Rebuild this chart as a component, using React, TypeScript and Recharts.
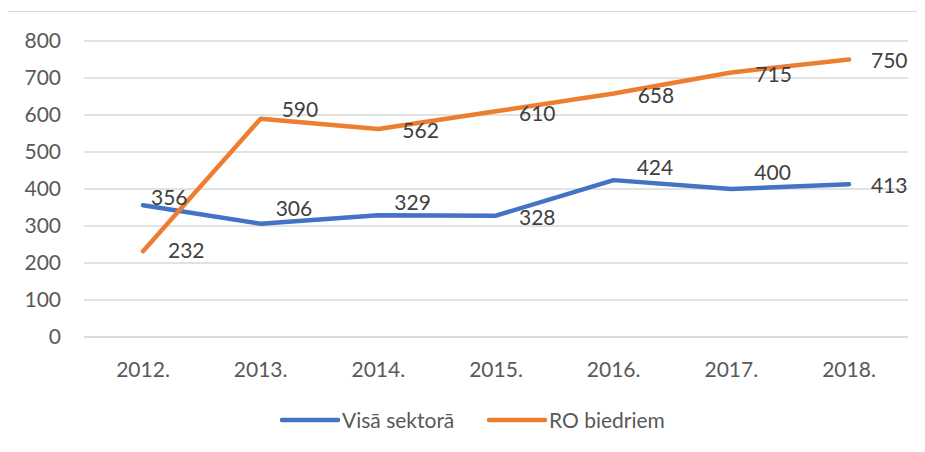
import React from 'react'
import { CartesianGrid, LabelList, Line, LineChart, XAxis, YAxis } from 'recharts'

const years = ['2012.', '2013.', '2014.', '2015.', '2016.', '2017.', '2018.']
const visaSektora = [356, 306, 329, 328, 424, 400, 413]
const roBiedriem = [232, 590, 562, 610, 658, 715, 750]
const yTicks = [0, 100, 200, 300, 400, 500, 600, 700, 800]

const seriesNames = { visa: 'Visā sektorā', ro: 'RO biedriem' }
const colors = { visa: '#4472C4', ro: '#ED7D31' }

// where each data label sits relative to its point: [dx to text start, dy to baseline]
const visaLabelOffsets = [[8, 0], [15, -8], [16, -5], [23, 9], [23, -5], [23, -9], [22, 9]]
const roLabelOffsets = [[25, 7], [21, -2], [24, 9], [23, 10], [24, 9], [24, 10], [22, 8]]

const data = years.map((year, i) => ({ year, visa: visaSektora[i], ro: roBiedriem[i] }))

const font = 'Lato, "Open Sans", sans-serif'
const tickStyle = { fontFamily: font, fontSize: 21, fill: '#595959' }

const makeLabel = (offsets: number[][]) => (props: any) => {
    const { x, y, index, value } = props
    const [dx, dy] = offsets[index] || [20, 8]
    return (
        <text x={Number(x) + dx} y={Number(y) + dy} fill="#404040" fontFamily={font} fontSize={21} textAnchor="start">
            {value}
        </text>
    )
}

const LegendItem = ({ color, label, left }: { color: string; label: string; left: number }) => (
    <div style={{ position: 'absolute', left, top: 0, display: 'flex', alignItems: 'center', whiteSpace: 'nowrap' }}>
        <svg width={62} height={10}>
            <line x1={2} y1={5} x2={58} y2={5} stroke={color} strokeWidth={4.5} strokeLinecap="round" />
        </svg>
        <span style={{ fontFamily: font, fontSize: 21, color: '#595959' }}>{label}</span>
    </div>
)

export default function App() {
    return (
        <div style={{ position: 'relative', margin: -8, width: 925, height: 452, overflow: 'hidden', background: '#fff' }}>
            <div
                style={{
                    position: 'absolute',
                    left: 7,
                    top: 11,
                    width: 940,
                    height: 470,
                    borderLeft: '1px solid #d9d9d9',
                    borderTop: '1px solid #d9d9d9',
                }}
            />
            <div style={{ position: 'absolute', left: 0, top: 0 }}>
                <LineChart width={925} height={452} data={data} margin={{ top: 41, right: 17, left: 24, bottom: 75 }}>
                    <CartesianGrid vertical={false} stroke="#d9d9d9" strokeWidth={1.5} />
                    <XAxis
                        dataKey="year"
                        padding={{ left: 59, right: 59 }}
                        axisLine={{ stroke: '#d9d9d9', strokeWidth: 1.5 }}
                        tickLine={false}
                        tickSize={6}
                        tickMargin={19}
                        height={40}
                        tick={tickStyle}
                        interval={0}
                    />
                    <YAxis
                        domain={[0, 800]}
                        ticks={yTicks}
                        axisLine={false}
                        tickLine={false}
                        tickSize={6}
                        tickMargin={17}
                        width={60}
                        tick={tickStyle}
                    />
                    <Line
                        dataKey="visa"
                        name={seriesNames.visa}
                        stroke={colors.visa}
                        strokeWidth={4.5}
                        strokeLinecap="round"
                        strokeLinejoin="round"
                        dot={false}
                        isAnimationActive={false}
                    >
                        <LabelList dataKey="visa" content={makeLabel(visaLabelOffsets)} />
                    </Line>
                    <Line
                        dataKey="ro"
                        name={seriesNames.ro}
                        stroke={colors.ro}
                        strokeWidth={4.5}
                        strokeLinecap="round"
                        strokeLinejoin="round"
                        dot={false}
                        isAnimationActive={false}
                    >
                        <LabelList dataKey="ro" content={makeLabel(roLabelOffsets)} />
                    </Line>
                </LineChart>
            </div>
            <div style={{ position: 'absolute', left: 0, top: 407, width: 925, height: 30 }}>
                <LegendItem color={colors.visa} label={seriesNames.visa} left={280} />
                <LegendItem color={colors.ro} label={seriesNames.ro} left={487} />
            </div>
        </div>
    )
}
